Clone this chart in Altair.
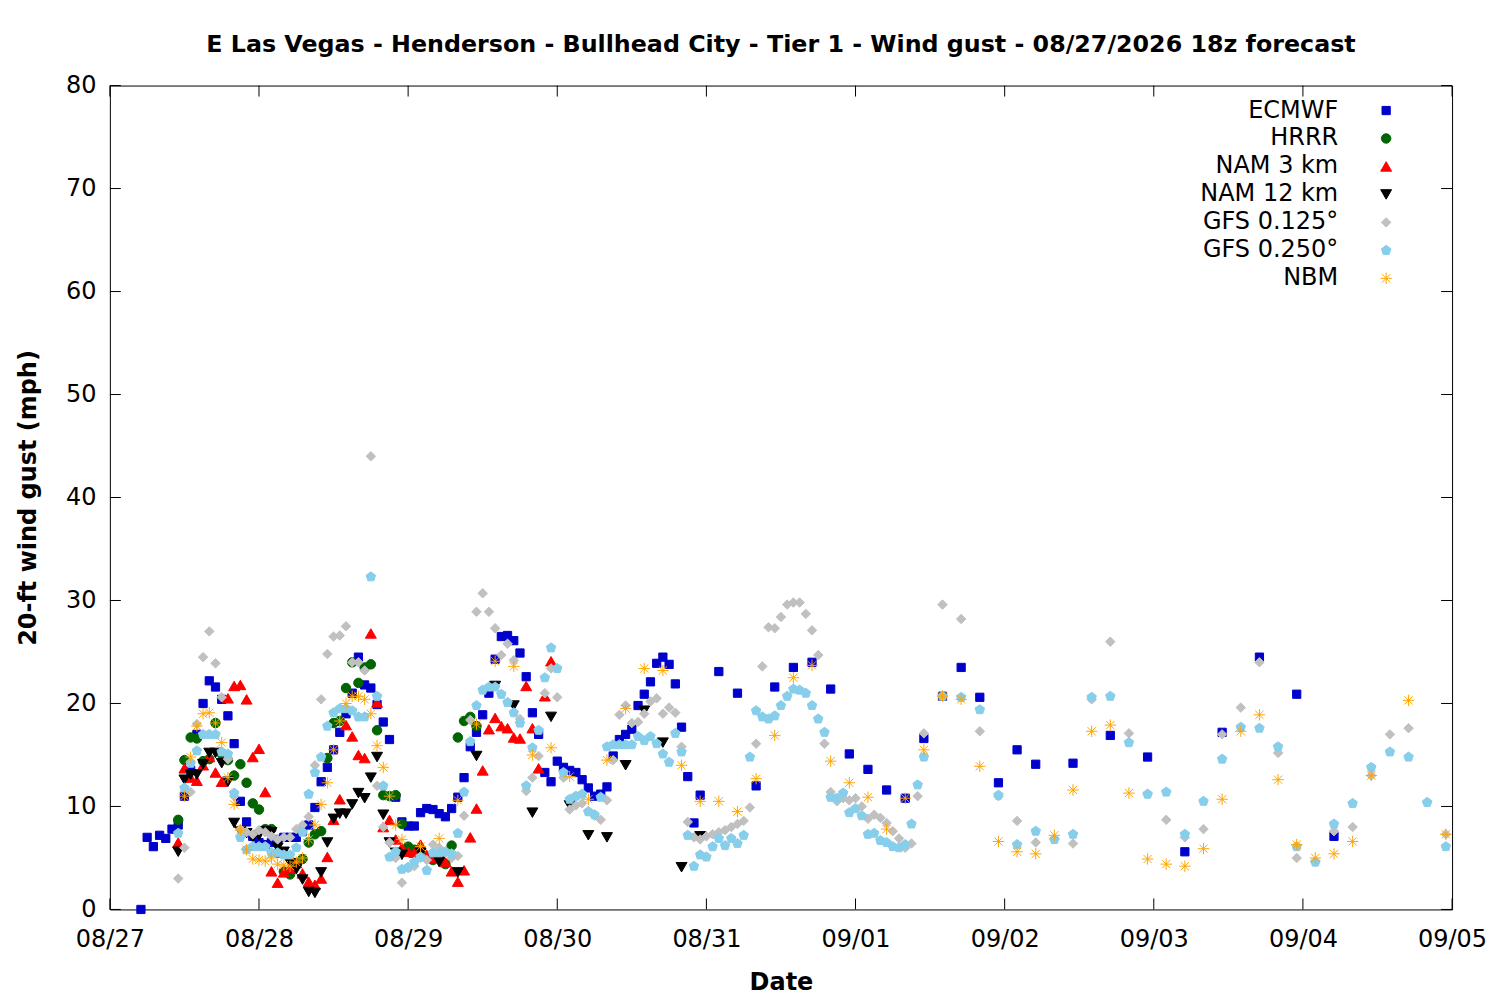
import altair as alt
import pandas as pd

# ---------------- data (hours after 08/27 00:00 local, gust in mph) ----------------
models = ["ECMWF", "HRRR", "NAM 3 km", "NAM 12 km", "GFS 0.125°", "GFS 0.250°", "NBM"]

ecmwf_h = list(range(5, 96)) + list(range(98, 150, 3)) + list(range(155, 198, 6))
ecmwf_v = [0.0, 7.0, 6.1, 7.2, 6.9, 7.8, 8.2, 11.0, 13.5, 17.0,
           20.0, 22.2, 21.6, 20.4, 18.8, 16.1, 10.5, 8.5, 7.1, 6.5,
           6.3, 6.5, 6.8, 7.0, 7.0, 7.0, 7.6, 8.2, 9.9, 12.4,
           13.8, 15.5, 17.2, 19.0, 21.0, 24.5, 21.8, 21.5, 19.9, 18.2,
           16.5, 10.9, 8.5, 8.1, 8.1, 9.4, 9.8, 9.7, 9.3, 9.0,
           9.8, 10.9, 12.8, 15.8, 17.2, 18.9, 21.0, 24.3, 26.5, 26.6,
           26.1, 24.9, 22.6, 19.1, 17.0, 13.3, 12.4, 14.4, 13.8, 13.5,
           13.3, 12.6, 11.8, 11.0, 11.2, 11.9, 14.9, 16.5, 17.0, 17.5,
           19.8, 20.9, 22.1, 23.9, 24.5, 23.8, 21.9, 17.7, 12.9, 8.4,
           11.1,
           23.1, 21.0, 12.0, 21.6, 23.5, 24.0, 21.4, 15.1, 13.6, 11.6,
           10.8, 16.6, 20.7, 23.5, 20.6, 12.3, 15.5, 14.1,
           14.2, 16.9, 14.8, 5.6, 17.2, 24.5, 20.9, 7.1]

hrrr_h = list(range(11, 60))
hrrr_v = [8.7, 14.5, 16.7, 16.6, 14.4, 14.6, 18.1, 15.1, 14.5, 13.0,
          14.1, 12.3, 10.3, 9.7, 7.8, 7.8, 5.5, 3.7, 3.4, 4.3,
          4.9, 6.5, 7.3, 7.6, 14.7, 18.1, 18.3, 21.5, 24.0, 22.0,
          23.5, 23.8, 17.4, 11.1, 11.0, 11.1, 8.3, 6.1, 5.8, 5.5,
          5.0, 4.8, 5.0, 4.4, 6.2, 16.7, 18.3, 18.7, 17.8]

nam3_h = list(range(11, 72))
nam3_v = [6.5, 13.7, 12.8, 12.5, 14.0, 14.8, 13.3, 12.4, 20.5, 21.7,
          21.8, 20.4, 14.8, 15.6, 11.4, 3.7, 2.6, 3.6, 4.0, 4.5,
          3.5, 2.7, 2.4, 3.0, 5.1, 8.7, 10.7, 17.9, 16.8, 15.0,
          14.7, 26.8, 20.1, 8.0, 8.7, 6.8, 6.0, 5.6, 5.5, 6.3,
          5.3, 5.0, 5.5, 4.6, 3.7, 2.7, 3.8, 7.0, 9.8, 13.5,
          17.5, 18.6, 17.8, 17.6, 16.7, 16.6, 21.7, 17.6, 13.7, 20.7,
          24.1]

nam12_h = list(range(11, 48)) + list(range(50, 96, 3))
nam12_v = [5.6, 12.6, 13.1, 13.1, 14.1, 15.2, 15.2, 14.2, 12.4, 8.4,
           7.6, 7.4, 7.0, 7.2, 7.6, 7.5, 6.0, 5.6, 4.5, 3.9,
           2.9, 1.7, 1.6, 3.6, 6.5, 8.8, 9.3, 9.3, 10.2, 11.3,
           10.8, 12.8, 14.8, 9.2, 6.5, 5.5, 5.3,
           5.5, 4.6, 3.6, 14.9, 21.7, 19.8, 9.4, 18.7, 10.1, 7.2,
           7.0, 14.0, 19.3, 16.2, 4.1, 7.1]

gfs125_h = list(range(11, 132)) + list(range(134, 216, 3))
gfs125_v = [3.0, 6.0, 11.4, 18.0, 24.5, 27.0, 23.9, 20.6, 14.6, 11.0,
            7.8, 7.5, 7.3, 7.7, 7.5, 7.1, 6.8, 7.0, 7.0, 7.8,
            8.2, 9.0, 14.0, 20.4, 24.8, 26.5, 26.6, 27.5, 24.0, 24.0,
            23.2, 44.0, 12.0, 8.0, 6.5, 5.0, 2.6, 4.0, 4.2, 5.0,
            4.8, 6.3, 6.0, 5.5, 5.0, 5.2, 9.1, 18.4, 28.9, 30.7,
            28.9, 27.3, 24.7, 25.8, 24.2, 18.5, 11.5, 12.8, 14.9, 21.0,
            23.4, 20.6, 12.8, 9.7, 10.1, 10.3, 9.5, 9.1, 8.7, 10.6,
            14.5, 18.9, 19.8, 18.1, 18.2, 19.0, 20.2, 20.5, 19.0, 19.6,
            19.1, 15.8, 8.5, 7.0, 6.8, 7.1, 7.3, 7.5, 7.7, 8.0,
            8.3, 8.6, 9.9, 16.1, 23.6, 27.4, 27.3, 28.4, 29.6, 29.8,
            29.8, 28.7, 27.1, 24.7, 16.1, 11.4, 10.5, 10.8, 10.6, 10.8,
            10.0, 8.8, 9.2, 8.9, 8.4, 7.6, 6.9, 6.0, 6.4, 11.0,
            17.1,
            29.6, 28.2, 17.3, 11.0, 8.6, 6.5, 6.8, 6.4, 20.4, 26.0,
            17.1, 11.2, 8.7, 7.0, 7.8, 17.0, 19.6, 24.0, 15.2, 5.0,
            4.6, 7.6, 8.0, 13.0, 17.0, 17.6, 10.4, 7.3]

gfs250_h = list(range(11, 132)) + list(range(134, 216, 3))
gfs250_v = [7.4, 11.8, 14.2, 15.4, 17.0, 17.0, 17.0, 15.3, 15.1, 11.3,
            7.0, 5.8, 6.1, 6.1, 6.1, 5.5, 5.5, 5.3, 5.3, 6.0,
            7.5, 11.2, 13.3, 14.8, 17.8, 19.1, 19.5, 19.5, 19.3, 18.7,
            18.7, 32.3, 20.7, 12.0, 5.1, 5.6, 3.9, 4.1, 4.6, 5.1,
            3.8, 5.5, 5.5, 5.6, 5.4, 7.4, 11.4, 16.3, 19.8, 21.3,
            21.6, 21.6, 20.9, 20.1, 19.1, 18.1, 12.0, 15.7, 17.4, 22.5,
            25.4, 23.4, 13.3, 10.7, 11.0, 11.2, 9.5, 9.2, 10.9, 15.8,
            16.0, 16.0, 16.0, 16.0, 16.8, 16.4, 16.8, 16.1, 15.1, 14.3,
            17.1, 15.3, 7.2, 4.2, 5.3, 5.1, 6.1, 6.9, 6.2, 6.9,
            6.4, 7.2, 14.8, 19.3, 18.7, 18.5, 18.8, 19.8, 20.7, 21.4,
            21.3, 21.0, 19.8, 18.5, 17.2, 10.9, 10.8, 11.3, 9.4, 9.8,
            9.1, 7.3, 7.4, 6.7, 6.5, 6.1, 6.0, 6.3, 8.3, 12.1,
            14.8,
            20.7, 20.6, 19.4, 11.1, 6.3, 7.6, 6.8, 7.3, 20.6, 20.7,
            16.2, 11.2, 11.4, 7.3, 10.5, 14.6, 17.7, 17.6, 15.8, 6.1,
            4.6, 8.3, 10.3, 13.8, 15.3, 14.8, 10.4, 6.1]

nbm_h = list(range(12, 48)) + list(range(50, 204, 3)) + [209, 215]
nbm_v = [11.0, 14.8, 17.8, 19.0, 19.1, 18.1, 16.2, 12.8, 10.2, 7.7,
         5.8, 4.9, 4.8, 4.7, 5.0, 4.4, 4.3, 4.2, 4.6, 5.0,
         6.8, 8.2, 10.2, 12.3, 15.5, 18.3, 20.0, 20.7, 20.7, 20.4,
         19.0, 15.9, 13.8, 11.0, 8.2, 6.8,
         6.1, 6.9, 10.6, 18.0, 24.1, 23.6, 15.0, 15.7, 12.9, 10.7,
         14.5, 19.5, 23.4, 23.2, 14.0, 10.5, 10.5, 9.5, 12.7, 16.9,
         22.5, 23.7, 14.4, 12.3, 10.9, 7.8, 10.8, 15.5, 20.7, 20.4,
         13.9, 6.6, 5.6, 5.4, 7.2, 11.6, 17.3, 17.9, 11.3, 4.9,
         4.4, 4.2, 5.9, 10.7, 17.3, 18.9, 12.6, 6.3, 5.0, 5.4,
         6.6, 13.0,
         20.3, 7.3]

tick_days = pd.date_range("2026-08-27", "2026-09-05", freq="D")
y_ticks = list(range(0, 81, 10))

# ---------------- build table ----------------
series = [(ecmwf_h, ecmwf_v), (hrrr_h, hrrr_v), (nam3_h, nam3_v), (nam12_h, nam12_v),
          (gfs125_h, gfs125_v), (gfs250_h, gfs250_v), (nbm_h, nbm_v)]
base = pd.Timestamp("2026-08-27")
frames = []
for name, (hh, vv) in zip(models, series):
    assert len(hh) == len(vv), (name, len(hh), len(vv))
    frames.append(pd.DataFrame({"model": name,
                                "t": base + pd.to_timedelta(hh, unit="h"),
                                "gust": vv}))
df = pd.concat(frames, ignore_index=True)
legend_df = pd.DataFrame({"model": models})
xtick_df = pd.DataFrame({"t": tick_days})
ytick_df = pd.DataFrame({"v": y_ticks})

# ---------------- styling ----------------
W, H = 1344, 825
FS = 24
colors = ["#0000CC", "#006400", "#FF0000", "#000000", "#C0C0C0", "#87CEEB", "#FFA500"]
PENT = "M0,-1L0.951,-0.309L0.588,0.809L-0.588,0.809L-0.951,-0.309Z"
AST = "M-1,0L1,0M0,-1L0,1M-0.72,-0.72L0.72,0.72M-0.72,0.72L0.72,-0.72"
shapes = ["square", "circle", "triangle-up", "triangle-down", "diamond", PENT, AST]
sizes = [68, 90, 120, 120, 90, 100, 130]

col_scale = alt.Scale(domain=models, range=colors)
shp_scale = alt.Scale(domain=models, range=shapes)
siz_scale = alt.Scale(type="ordinal", domain=models, range=sizes)

x_dom = alt.Scale(domain=[alt.DateTime(year=2026, month=8, date=27),
                          alt.DateTime(year=2026, month=9, date=5)])
y_dom = alt.Scale(domain=[0, 80], nice=False)
day_values = [alt.DateTime(year=d.year, month=d.month, date=d.day) for d in tick_days]
x_axis = alt.Axis(values=day_values, format="%m/%d", title="Date",
                  labelPadding=18, titlePadding=19)
x_enc = alt.X("t:T", scale=x_dom, axis=x_axis)

enc_style = dict(
    fill=alt.Fill("model:N", scale=col_scale, legend=None),
    stroke=alt.Stroke("model:N", scale=col_scale, legend=None),
    shape=alt.Shape("model:N", scale=shp_scale, legend=None),
    size=alt.Size("model:N", scale=siz_scale, legend=None),
)

points = alt.Chart(df).mark_point(filled=True, opacity=1, fillOpacity=1, strokeWidth=1).encode(
    x=x_enc,
    y=alt.Y("gust:Q", scale=y_dom,
            axis=alt.Axis(values=y_ticks, title="20-ft wind gust (mph)",
                          labelPadding=14, titlePadding=25)),
    **enc_style,
)

bottom_ticks = alt.Chart(xtick_df).mark_rule(color="black", strokeWidth=1).encode(
    x=x_enc, y=alt.value(H), y2=alt.value(H - 11))
top_ticks = alt.Chart(xtick_df).mark_rule(color="black", strokeWidth=1).encode(
    x=x_enc, y=alt.value(0), y2=alt.value(11))
left_ticks = alt.Chart(ytick_df).mark_rule(color="black", strokeWidth=1).encode(
    y=alt.Y("v:Q", scale=y_dom, axis=None), x=alt.value(0), x2=alt.value(11))
right_ticks = alt.Chart(ytick_df).mark_rule(color="black", strokeWidth=1).encode(
    y=alt.Y("v:Q", scale=y_dom, axis=None), x=alt.value(W), x2=alt.value(W - 11))

leg_y = alt.Y("model:N", sort=models, axis=None,
              scale=alt.Scale(type="point", domain=models, range=[25, 193], padding=0))
legend_text = alt.Chart(legend_df).mark_text(align="right", baseline="middle", fontSize=FS,
                                             color="black").encode(
    y=leg_y, x=alt.value(1230), text="model:N")
legend_sym = alt.Chart(legend_df).mark_point(filled=True, opacity=1, fillOpacity=1,
                                             strokeWidth=1).encode(
    y=leg_y, x=alt.value(1278), **enc_style)

chart = alt.layer(
    points, bottom_ticks, top_ticks, left_ticks, right_ticks, legend_text, legend_sym
).resolve_scale(
    y="independent"
).properties(
    width=W, height=H,
    title=alt.TitleParams(
        "E Las Vegas - Henderson - Bullhead City - Tier 1 - Wind gust - 08/27/2026 18z forecast",
        fontSize=23.8, fontWeight="bold", anchor="middle", offset=17, color="black"),
    autosize=alt.AutoSizeParams(type="none"),
    padding={"left": 102, "top": 77, "right": 40, "bottom": 85},
).configure(
    font="DejaVu Sans",
).configure_view(
    stroke="black", strokeWidth=1,
).configure_axis(
    labelFontSize=FS, titleFontSize=FS, titleFontWeight="bold",
    labelColor="black", titleColor="black", ticks=False, tickSize=0,
    domain=False, grid=False, labelFlush=False, labelOverlap=False,
)

chart.save("out.html", embed_options={"renderer": "svg", "actions": False})
